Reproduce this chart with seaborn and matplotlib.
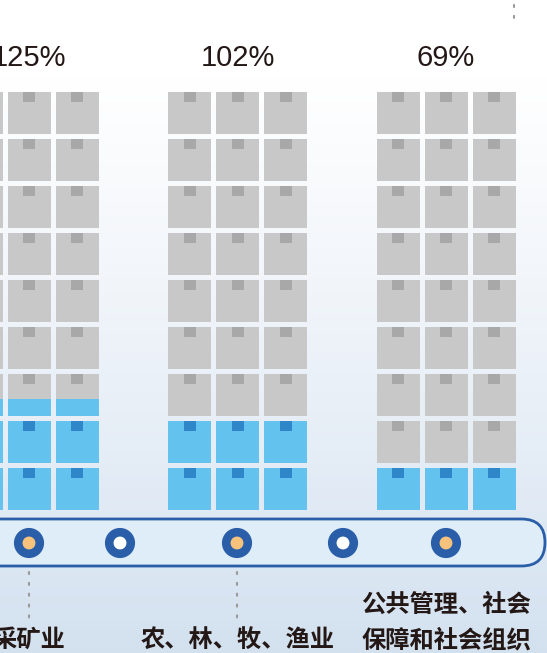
import numpy as np
import pandas as pd
import seaborn as sns
import matplotlib.pyplot as plt
from matplotlib.patches import FancyBboxPatch
from matplotlib.colors import LinearSegmentedColormap

sns.set_theme(style="white")
plt.rcParams['font.family'] = ['Noto Sans CJK SC', 'DejaVu Sans']

# data
industries = ["采矿业", "农、林、牧、渔业", "公共管理、社会\n保障和社会组织"]
pct_labels = ["125%", "102%", "69%"]
blue_rows = [2.4, 2.0, 1.0]      # filled (blue) height of each 9-box stack, in boxes
n_rows = 9
n_cols = 3

# layout (pixels, y grows downwards)
W, H = 547, 653
group_x0, group_step = 29, 208.5
col_step, box_w, box_h, row_step = 48, 43, 42, 47
stack_bottom = 510
tab_w, tab_h = 12, 10
dot_x = [29, 120, 237, 343, 446]
dot_y = 543

gray, gray_dark = "#c8c8c8", "#a8a8a8"
blue, blue_dark = "#63c3ee", "#2f86c9"
ring = "#2a5ea8"
text_c = "#231815"

fig = plt.figure(figsize=(W / 100, H / 100), dpi=100)
ax = fig.add_axes([0, 0, 1, 1])
ax.set_xlim(0, W)
ax.set_ylim(H, 0)
ax.axis("off")

# background gradient
bg = LinearSegmentedColormap.from_list(
    "bg", [(0, "#ffffff"), (0.12, "#ffffff"), (0.45, "#f1f5fa"),
           (0.75, "#e2ebf5"), (1, "#d3e1ef")])
grad = np.linspace(0, 1, 256).reshape(-1, 1)
ax.imshow(grad, cmap=bg, extent=[0, W, H, 0], aspect="auto", zorder=0)

# one record per box
recs = []
for g in range(len(pct_labels)):
    cx = group_x0 + g * group_step
    for c in range(n_cols):
        for r in range(n_rows):
            f = min(max(blue_rows[g] - r, 0), 1)
            recs.append(dict(group=g, x=cx + (c - 1) * col_step,
                             top=stack_bottom - r * row_step - box_h, fill=f))
boxes = pd.DataFrame(recs)

ax.bar(boxes["x"], box_h, bottom=boxes["top"], width=box_w, color=gray,
       linewidth=0, zorder=2)
filled = boxes[boxes["fill"] > 0]
ax.bar(filled["x"], filled["fill"] * box_h,
       bottom=filled["top"] + (1 - filled["fill"]) * box_h,
       width=box_w, color=blue, linewidth=0, zorder=3)
tab_colors = np.where(boxes["fill"] >= 1 - tab_h / box_h, blue_dark, gray_dark)
ax.bar(boxes["x"], tab_h, bottom=boxes["top"], width=tab_w, color=tab_colors,
       linewidth=0, zorder=4)

# percentage labels
for g, lab in enumerate(pct_labels):
    ax.text(group_x0 + g * group_step, 58, lab, ha="center", va="center",
            fontsize=21, color=text_c, family=["Liberation Sans", "DejaVu Sans"], zorder=5)

# timeline band
band = FancyBboxPatch((-60, 519), 605, 47, boxstyle="round,pad=0,rounding_size=23.5",
                      fc="#dfedf8", ec=ring, lw=2.0, zorder=2)
ax.add_patch(band)

dots = pd.DataFrame({"x": dot_x, "y": [dot_y] * len(dot_x),
                     "kind": ["hit", "gap", "hit", "gap", "hit"]})
sns.scatterplot(data=dots, x="x", y="y", hue="kind",
                palette={"hit": "#f6c27c", "gap": "#ffffff"},
                s=240, edgecolor=ring, linewidth=6.2, legend=False, ax=ax, zorder=6)

# dotted leader lines
for x in [dot_x[0], dot_x[2]]:
    ax.plot([x, x], [572, 626], color="#9a9a9a", lw=1.5, ls=(0, (1, 4.2)),
            dash_capstyle="round", zorder=3)
ax.plot([514, 514], [5, 22], color="#9a9a9a", lw=1.5, ls=(0, (1, 4.2)),
        dash_capstyle="round", zorder=3)

# industry labels
for g, name in enumerate(industries):
    lines = name.split("\n")
    for k, line in enumerate(lines):
        y = 640 - (len(lines) - 1 - k) * 35
        ax.text(group_x0 + g * group_step, y, line, ha="center", va="center",
                fontsize=17.5, fontweight="bold", color=text_c, zorder=5)

ax.set_xlabel("")
ax.set_ylabel("")
fig.savefig("out.png", dpi=100)
